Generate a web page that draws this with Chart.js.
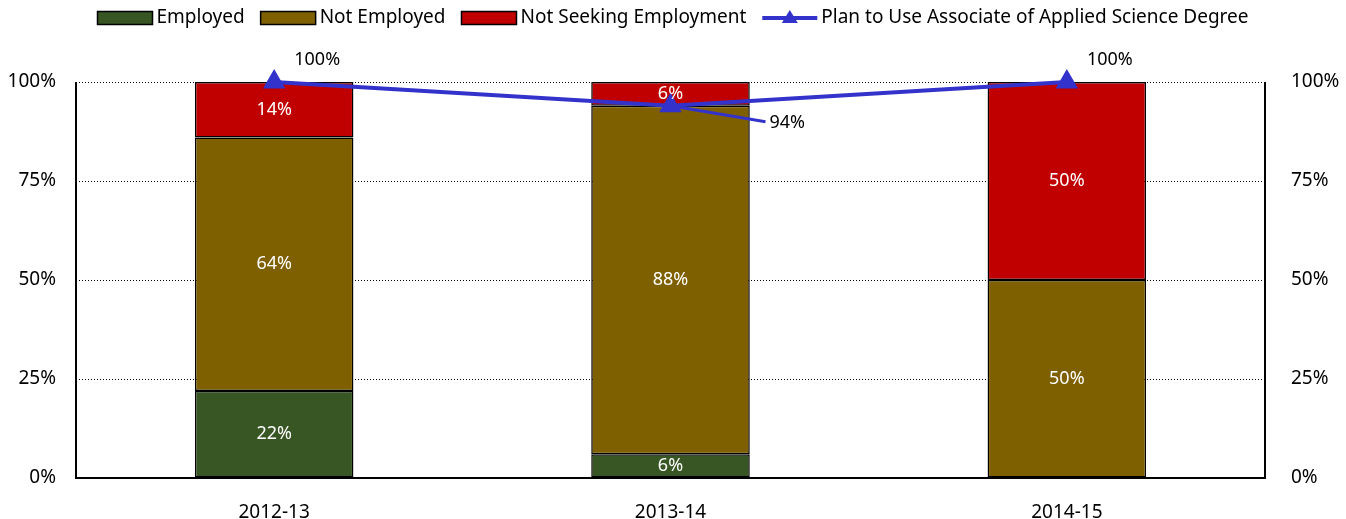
<!DOCTYPE html>
<html>
<head>
<meta charset="utf-8">
<script src="https://cdn.jsdelivr.net/npm/chart.js@4.4.1/dist/chart.umd.min.js"></script>
<style>
  html, body { margin: 0; padding: 0; background: #fff; }
  #wrap { width: 1346px; height: 519px; position: relative; }
</style>
</head>
<body>
<div id="wrap"><canvas id="empChart" width="1346" height="519"></canvas></div>
<script>
// values
const years = ["2012-13", "2013-14", "2014-15"];
const employed = [22, 6, 0];
const notEmployed = [64, 88, 50];
const notSeeking = [14, 6, 50];
const planToUse = [100, 94, 100];
const pctTicks = [0, 25, 50, 75, 100];

const FONT = "'Noto Sans', 'DejaVu Sans', sans-serif";
const colors = { employed: "#375623", notEmployed: "#7F6000", notSeeking: "#C00000", plan: "#3333CC" };

// white labels in the middle of each bar piece, black ones for the line
const labelPlugin = {
  id: "valueLabels",
  afterDatasetsDraw(chart) {
    const ctx = chart.ctx;
    ctx.save();
    ctx.font = "18px " + FONT;
    ctx.textAlign = "center";
    ctx.textBaseline = "middle";
    chart.data.datasets.forEach((ds, i) => {
      const meta = chart.getDatasetMeta(i);
      meta.data.forEach((el, j) => {
        const v = ds.data[j];
        if (!v) return;
        if (ds.type === "bar") {
          ctx.fillStyle = "#fff";
          ctx.fillText(v + "%", el.x, (el.y + el.base) / 2);
        } else {
          ctx.fillStyle = "#000";
          if (v < 100) {
            // label pushed to the right with a leader line
            ctx.strokeStyle = colors.plan;
            ctx.lineWidth = 3;
            ctx.beginPath();
            ctx.moveTo(el.x, el.y);
            ctx.lineTo(el.x + 95, el.y + 16);
            ctx.stroke();
            ctx.textAlign = "left";
            ctx.fillText(v + "%", el.x + 99, el.y + 17);
            ctx.textAlign = "center";
          } else {
            ctx.fillText(v + "%", el.x + 43, el.y - 22);
          }
        }
      });
    });
    ctx.restore();
  }
};

// legend drawn by hand so the line entry gets a line plus triangle
const legendPlugin = {
  id: "ownLegend",
  afterDraw(chart) {
    const ctx = chart.ctx;
    ctx.save();
    ctx.font = "19px " + FONT;
    ctx.textBaseline = "middle";
    const boxW = 55, gapBox = 4, gapItem = 16, y = 18;
    const items = chart.data.datasets.map(ds => ({ ds, w: boxW + gapBox + ctx.measureText(ds.label).width }));
    let total = items.reduce((s, it) => s + it.w, 0) + gapItem * (items.length - 1);
    let x = (chart.width - total) / 2;
    items.forEach(it => {
      const ds = it.ds;
      if (ds.type === "bar") {
        ctx.fillStyle = ds.backgroundColor;
        ctx.fillRect(x, y - 6.5, boxW, 13);
        ctx.strokeStyle = "#000";
        ctx.lineWidth = 1.5;
        ctx.strokeRect(x, y - 6.5, boxW, 13);
      } else {
        ctx.strokeStyle = ds.borderColor;
        ctx.lineWidth = 4;
        ctx.beginPath();
        ctx.moveTo(x, y);
        ctx.lineTo(x + boxW, y);
        ctx.stroke();
        ctx.fillStyle = ds.borderColor;
        ctx.beginPath();
        ctx.moveTo(x + boxW / 2, y - 8);
        ctx.lineTo(x + boxW / 2 + 8, y + 5);
        ctx.lineTo(x + boxW / 2 - 8, y + 5);
        ctx.closePath();
        ctx.fill();
      }
      ctx.fillStyle = "#000";
      ctx.textAlign = "left";
      ctx.fillText(ds.label, x + boxW + gapBox, y);
      x += it.w + gapItem;
    });
    ctx.restore();
  }
};

// solid frame lines on left, right and bottom
const framePlugin = {
  id: "frame",
  beforeDatasetsDraw(chart) {
    const a = chart.chartArea, ctx = chart.ctx;
    ctx.save();
    ctx.strokeStyle = "#000";
    ctx.lineWidth = 2;
    ctx.beginPath();
    ctx.moveTo(a.left, a.top);
    ctx.lineTo(a.left, a.bottom);
    ctx.lineTo(a.right, a.bottom);
    ctx.lineTo(a.right, a.top);
    ctx.stroke();
    ctx.restore();
  }
};

const pctTick = v => pctTicks.includes(v) ? v + "%" : "";

window.myChart = new Chart(document.getElementById("empChart").getContext("2d"), {
  data: {
    labels: years,
    datasets: [
      { type: "bar", label: "Employed", data: employed, backgroundColor: colors.employed,
        borderColor: "#000", borderWidth: 1.5, borderSkipped: false, stack: "s", order: 1 },
      { type: "bar", label: "Not Employed", data: notEmployed, backgroundColor: colors.notEmployed,
        borderColor: "#000", borderWidth: 1.5, borderSkipped: false, stack: "s", order: 1 },
      { type: "bar", label: "Not Seeking Employment", data: notSeeking, backgroundColor: colors.notSeeking,
        borderColor: "#000", borderWidth: 1.5, borderSkipped: false, stack: "s", order: 1 },
      { type: "line", label: "Plan to Use Associate of Applied Science Degree", data: planToUse, yAxisID: "y",
        borderColor: colors.plan, backgroundColor: colors.plan, borderWidth: 4, pointStyle: "triangle",
        pointRadius: 9, pointHoverRadius: 9, pointBackgroundColor: colors.plan, pointBorderColor: colors.plan,
        clip: false, order: 0 }
    ]
  },
  options: {
    responsive: false,
    animation: false,
    layout: { padding: { top: 82, left: 0, right: 0, bottom: 0 } },
    datasets: { bar: { categoryPercentage: 1, barPercentage: 0.4 } },
    plugins: { legend: { display: false }, tooltip: { enabled: false } },
    scales: {
      x: {
        stacked: true,
        grid: { display: false },
        border: { display: false },
        ticks: { color: "#000", font: { family: FONT, size: 19 }, padding: 15 },
        afterFit: s => { s.height = 41; }
      },
      y: {
        stacked: true, position: "left", min: 0, max: 100,
        grid: { color: "#000", lineWidth: 1, drawTicks: false },
        border: { display: false, dash: [1, 2] },
        ticks: { stepSize: 25, color: "#000", font: { family: FONT, size: 19 }, padding: 20, callback: pctTick },
        afterFit: s => { s.width = 76; }
      },
      y2: {
        position: "right", min: 0, max: 100,
        grid: { display: false },
        border: { display: false },
        ticks: { stepSize: 25, color: "#000", font: { family: FONT, size: 19 }, padding: 18, callback: pctTick },
        afterFit: s => { s.width = 81; }
      }
    }
  },
  plugins: [labelPlugin, legendPlugin, framePlugin]
});
</script>
</body>
</html>
